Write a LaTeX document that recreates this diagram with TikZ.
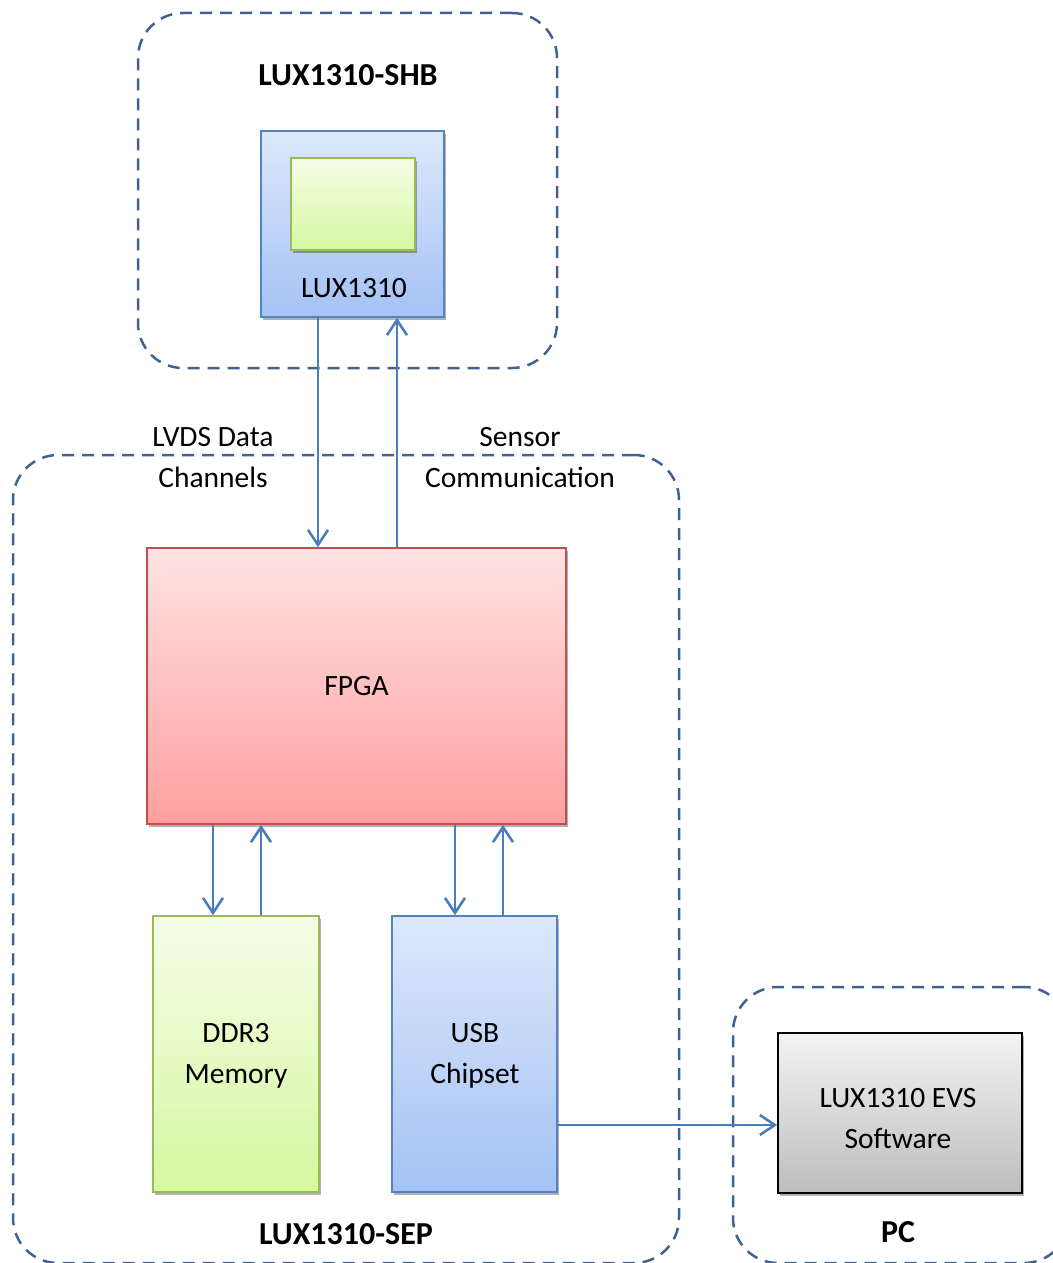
\documentclass[tikz,border=0pt]{standalone}
\usepackage{fontspec}
\setmainfont{Carlito}
\usetikzlibrary{arrows.meta,shadows}
\definecolor{dashc}{HTML}{41628F}
\definecolor{arrc}{HTML}{4A7EBB}
\definecolor{bluetop}{HTML}{DDE8FC}
\definecolor{bluebot}{HTML}{A4C2F4}
\definecolor{blueline}{HTML}{5283C4}
\definecolor{greentop}{HTML}{F5FDE8}
\definecolor{greenbot}{HTML}{D6F8A0}
\definecolor{greenline}{HTML}{9BBB59}
\definecolor{redtop}{HTML}{FFE3E3}
\definecolor{redbot}{HTML}{FF9F9F}
\definecolor{redline}{HTML}{C0504D}
\definecolor{graytop}{HTML}{F3F3F3}
\definecolor{graybot}{HTML}{BDBDBD}
\tikzset{
  txt/.style={font=\fontsize{29.5}{41}\selectfont, align=center, inner sep=0pt},
  btxt/.style={font=\fontsize{32}{41}\selectfont\bfseries, align=center, inner sep=0pt},
  grp/.style={draw=dashc, line width=2.5pt, dash pattern=on 12pt off 8pt, rounded corners=45pt, inner sep=0pt},
  shad/.style={drop shadow={shadow xshift=2pt, shadow yshift=-3pt, opacity=0.3, fill=black}},
  boxbase/.style={rectangle, line width=1.6pt, inner sep=0pt, txt, shad},
  bluebox/.style={boxbase, draw=blueline, top color=bluetop, bottom color=bluebot},
  greenbox/.style={boxbase, draw=greenline, top color=greentop, bottom color=greenbot},
  redbox/.style={boxbase, draw=redline, top color=redtop, bottom color=redbot},
  graybox/.style={boxbase, draw=black, top color=graytop, bottom color=graybot},
  arr/.style={draw=arrc, line width=2.6pt, -{Straight Barb[length=15pt,width=20pt,line width=2.6pt]}}
}
\begin{document}
\begin{tikzpicture}[x=1pt,y=-1pt]
\useasboundingbox (0,0) rectangle (1052,1263);
% group boxes
\node[grp, minimum width=419pt, minimum height=355pt] (shb) at (347.5,190.5) {};
\node[grp, minimum width=666pt, minimum height=808pt] (sep) at (346,859) {};
\node[grp, minimum width=336pt, minimum height=276pt] (pc) at (901,1125) {};
\node[btxt] (shblbl) at (348,75) {LUX1310-SHB};
\node[btxt] (seplbl) at (346,1234) {LUX1310-SEP};
\node[btxt] (pclbl) at (898,1232) {PC};
% sensor
\node[bluebox, minimum width=183pt, minimum height=186pt] (lux) at (352.5,224) {};
\node[greenbox, minimum width=124pt, minimum height=92pt] (chip) at (353,204) {};
\node[txt] (luxlbl) at (354,288) {LUX1310};
% SEP
\node[redbox, minimum width=419pt, minimum height=276pt] (fpga) at (356.5,686) {FPGA};
\node[greenbox, minimum width=166pt, minimum height=276pt] (ddr) at (236,1054) {};
\node[bluebox, minimum width=165pt, minimum height=276pt] (usb) at (474.5,1054) {};
\node[txt] (ddrlbl) at (236,1056) {DDR3\\Memory};
\node[txt] (usblbl) at (475,1056) {USB\\Chipset};
% PC
\node[graybox, minimum width=244pt, minimum height=160pt] (evs) at (900,1113) {};
\node[txt] (evslbl) at (898,1119) {LUX1310 EVS\\Software};
% labels
\node[txt] (lvds) at (213,458) {LVDS Data\\Channels};
\node[txt] (scomm) at (520,458) {Sensor\\Communication};
% arrows
\draw[arr] (318,0 |- lux.south) -- (318,0 |- fpga.north);
\draw[arr] (397,0 |- fpga.north) -- (397,0 |- lux.south);
\draw[arr] (213,0 |- fpga.south) -- (213,0 |- ddr.north);
\draw[arr] (261,0 |- ddr.north) -- (261,0 |- fpga.south);
\draw[arr] (455,0 |- fpga.south) -- (455,0 |- usb.north);
\draw[arr] (503,0 |- usb.north) -- (503,0 |- fpga.south);
\draw[arr] (usb.east |- 0,1125) -- (evs.west |- 0,1125);
\end{tikzpicture}
\end{document}
